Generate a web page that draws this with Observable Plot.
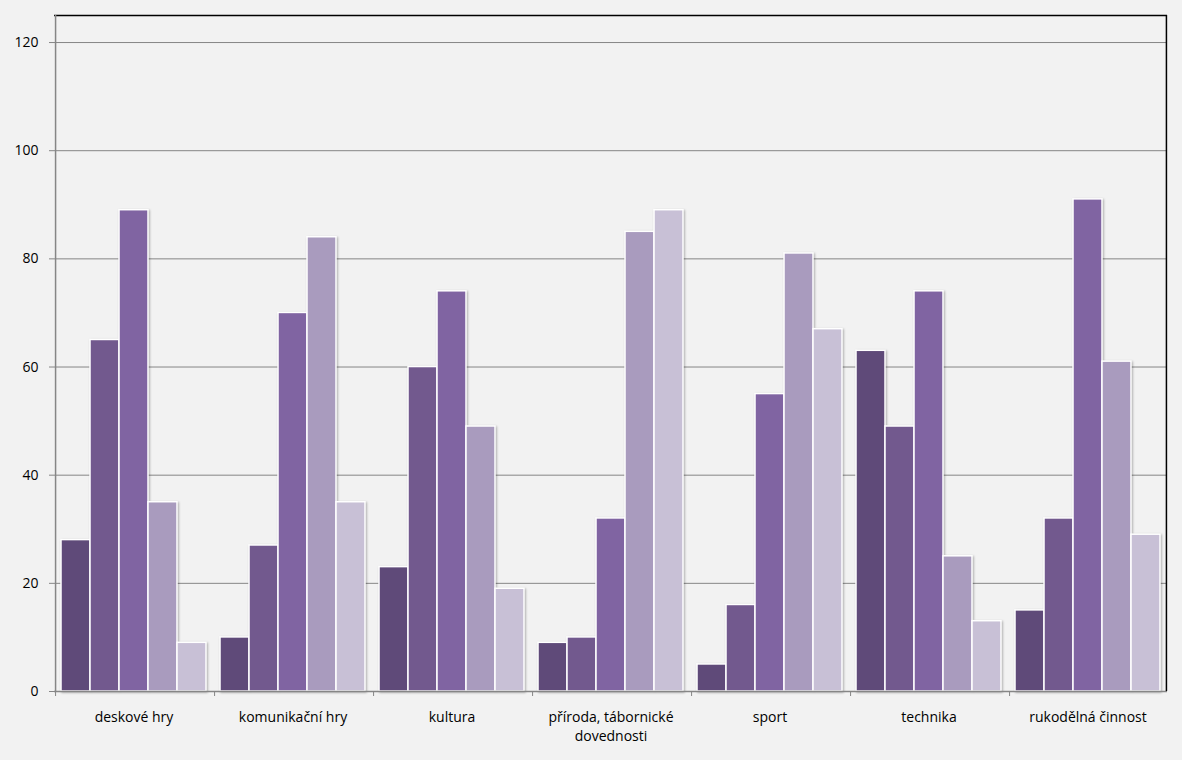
<!DOCTYPE html>
<html><head><meta charset="utf-8">
<script src="https://cdn.jsdelivr.net/npm/d3@7"></script>
<script src="https://cdn.jsdelivr.net/npm/@observablehq/plot@0.6"></script>
<style>html,body{margin:0;padding:0;background:#f2f2f2;} #chart{width:1182px;height:760px}</style>
</head><body><div id="chart"></div>
<script>
const categories = ["deskové hry","komunikační hry","kultura","příroda, tábornické dovednosti","sport","technika","rukodělná činnost"];
const categoryLabels = ["deskové hry","komunikační hry","kultura","příroda, tábornické\ndovednosti","sport","technika","rukodělná činnost"];
const series = ["1","2","3","4","5"];
const series1 = [28,10,23,9,5,63,15];
const series2 = [65,27,60,10,16,49,32];
const series3 = [89,70,74,32,55,74,91];
const series4 = [35,84,49,85,81,25,61];
const series5 = [9,35,19,89,67,13,29];
const yTicks = [0,20,40,60,80,100,120];
const colors = ["#5f4a79","#72598e","#8064a2","#a99bbe","#c8c0d6"];

const values = [series1,series2,series3,series4,series5];
const data = categories.flatMap((c,i)=> series.map((s,j)=>({category:c, series:s, value: values[j][i]})));

const W=1182, H=760, ML=53, MR=14, MT=15, MB=69;
const OUTER=0.19;
const facetW=(W-ML-MR)/categories.length;
const step=facetW/(series.length+2*OUTER);
const EDGE=step/2+OUTER*step;
const GRID="#868686";

const plot = Plot.plot({
  width: W, height: H, marginLeft: ML, marginRight: MR, marginTop: MT, marginBottom: MB,
  style: {background: "#f2f2f2", fontFamily: "'Open Sans', sans-serif", fontSize: "14px", color: "black", overflow: "visible"},
  fx: {domain: categories, padding: 0, label: null},
  x: {domain: series, paddingInner: 0, paddingOuter: OUTER, axis: null},
  y: {domain: [0,125], label: null},
  color: {domain: series, range: colors},
  marks: [
    Plot.ruleY(yTicks.filter(d=>d>0), {stroke: GRID, strokeWidth: 1}),
    Plot.barY(data, {fx:"category", x:"series", y:"value", fill:"series", stroke:"white", strokeWidth:1.5}),
    Plot.ruleY([125], {stroke:"black", strokeWidth: 1.5}),
    Plot.ruleY([0], {stroke: GRID, strokeWidth:1.5}),
    Plot.ruleX(categories, {fx: d=>d, x: ()=>series[0], dx: -EDGE, insetTop: H-MT-MB, insetBottom: -5, stroke: GRID, strokeWidth: 1}),
    Plot.ruleX([categories[0]], {fx: d=>d, x: ()=>series[0], dx: -EDGE, stroke: GRID, strokeWidth: 1.5}),
    Plot.ruleX([categories[categories.length-1]], {fx: d=>d, x: ()=>series[series.length-1], dx: EDGE, stroke: "black", strokeWidth: 1.5}),
    Plot.axisY({ticks: yTicks, tickSize:5, tickPadding: 11, stroke: GRID, fill: "black", label: null, fontSize: 14}),
    Plot.axisFx({anchor: "bottom", tickSize: 0, tickPadding: 18, tickFormat: d => categoryLabels[categories.indexOf(d)], lineHeight: 1.3, label: null, fontSize: 14})
  ]
});
d3.select(plot).selectAll('g[aria-label="bar"]').style("filter","drop-shadow(1.5px 1.5px 1.2px rgba(0,0,0,0.3))");
document.getElementById("chart").appendChild(plot);
</script>
</body></html>
